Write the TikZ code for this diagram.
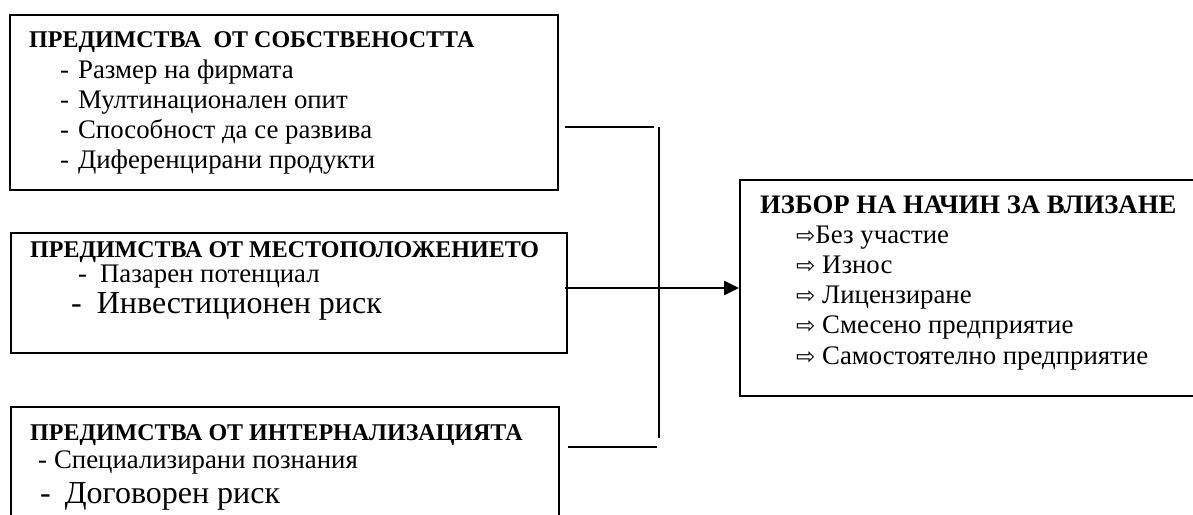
\documentclass[tikz,border=0pt]{standalone}
\usepackage{fontspec}
\setmainfont{Liberation Serif}
\newfontfamily\arrowfont{DejaVu Sans}
\usetikzlibrary{arrows.meta}

\newcommand{\itemarrow}{{\arrowfont\fontsize{23}{30}\selectfont ⇨}}

\begin{document}
\begin{tikzpicture}[x=1pt, y=-1pt,
  panel/.style={draw, line width=1.6pt, inner sep=0pt, anchor=north west},
  txt/.style={anchor=base west, inner sep=0pt, font=\fontsize{26.8}{30}\selectfont},
  head/.style={anchor=base west, inner sep=0pt, font=\fontsize{24}{30}\selectfont\bfseries},
  bighead/.style={anchor=base west, inner sep=0pt, font=\fontsize{26.7}{30}\selectfont\bfseries},
  big/.style={anchor=base west, inner sep=0pt, font=\fontsize{32}{37}\selectfont},
  link/.style={line width=1.6pt},
  mainlink/.style={line width=2.8pt, -{Triangle[length=15pt, width=14pt]}},
]
\useasboundingbox (0,0) rectangle (1193,514);

% frames
\node[panel, minimum width=548pt, minimum height=175pt] (own) at (9,14) {};
\node[panel, minimum width=556pt, minimum height=120pt] (loc) at (10,232) {};
\node[panel, minimum width=548pt, minimum height=115pt] (int) at (10,406) {};
\node[panel, minimum width=460pt, minimum height=216pt] (mode) at (739,179) {};

% ownership advantages
\node[head] (ownT) at (29,47) {ПРЕДИМСТВА\ \ ОТ СОБСТВЕНОСТТА};
\node[txt] (own1) at (60,78)  {-\hspace{9pt}Размер на фирмата};
\node[txt] (own2) at (60,108) {-\hspace{9pt}Мултинационален опит};
\node[txt] (own3) at (60,138) {-\hspace{9pt}Способност да се развива};
\node[txt] (own4) at (60,168) {-\hspace{9pt}Диференцирани продукти};

% location advantages
\node[head] (locT) at (30,257) {ПРЕДИМСТВА ОТ МЕСТОПОЛОЖЕНИЕТО};
\node[txt] (loc1) at (78,282) {-\hspace{13pt}Пазарен потенциал};
\node[big] (loc2) at (71,313) {-\hspace{15pt}Инвестиционен риск};

% internalisation advantages
\node[head] (intT) at (30,440) {ПРЕДИМСТВА ОТ ИНТЕРНАЛИЗАЦИЯТА};
\node[txt] (int1) at (38,468) {-\hspace{7pt}Специализирани познания};
\node[big] (int2) at (40,503) {-\hspace{14pt}Договорен риск};

% entry mode choice
\node[bighead] (modeT) at (760,213) {ИЗБОР НА НАЧИН ЗА ВЛИЗАНЕ};
\node[txt] (m1) at (796,243) {\itemarrow Без участие};
\node[txt] (m2) at (796,273) {\itemarrow\ Износ};
\node[txt] (m3) at (796,303) {\itemarrow\ Лицензиране};
\node[txt] (m4) at (796,333) {\itemarrow\ Смесено предприятие};
\node[txt] (m5) at (796,364) {\itemarrow\ Самостоятелно предприятие};

% connectors
\coordinate (topEnd) at (654,127);
\coordinate (busTop) at (659,127);
\coordinate (busBot) at (659,438);
\coordinate (botEnd) at (657,447);
\draw[link] ([xshift=6pt]own.east |- topEnd) -- (topEnd);
\draw[link] (busTop) -- (busBot);
\draw[link] ([xshift=8pt]int.east |- botEnd) -- (botEnd);
\draw[mainlink] ([xshift=-3pt]loc.east |- 0,288) -- (mode.west |- 0,288);
\end{tikzpicture}
\end{document}
